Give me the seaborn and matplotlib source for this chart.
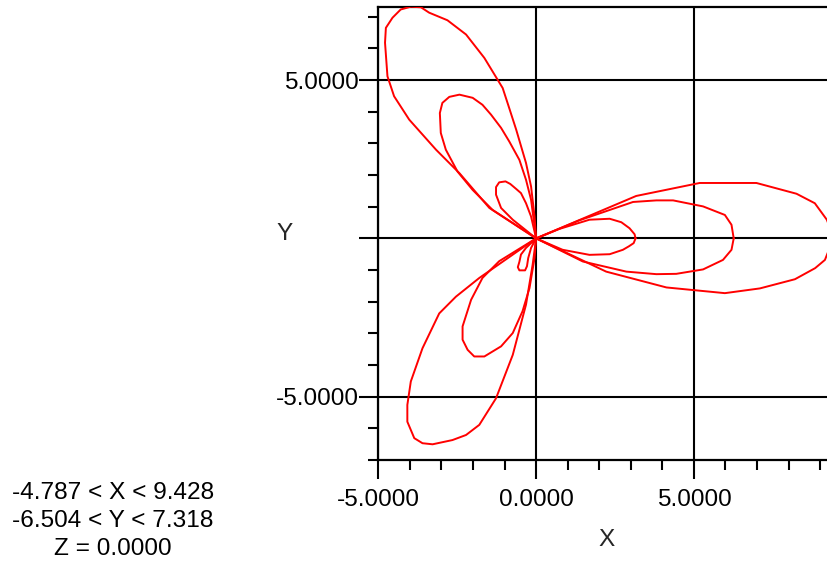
import matplotlib
matplotlib.use("Agg")
import matplotlib.pyplot as plt
import seaborn as sns
import pandas as pd
from matplotlib.ticker import MultipleLocator, FixedLocator, FormatStrFormatter, FuncFormatter

# ---- data (data units) ----
outer_x = [9.428, 9.21, 8.83, 8.25, 6.98, 5.18, 3.17, 0.0,
           -1.80, -2.54, -3.07, -3.60, -3.97, -4.08, -4.08, -3.86, -3.60, -3.28, -2.65, -2.22, -1.80, -1.27, -0.74, -0.32, -0.11, 0.0,
           -0.05, -0.16, -0.32, -0.63, -0.87, -1.06, -1.64, -2.22, -2.81, -3.39, -3.65, -3.97, -4.29, -4.55, -4.76, -4.787, -4.71, -4.50, -4.02, -3.17, -2.43, -1.48, 0.0,
           2.22, 4.13, 5.98, 7.09, 8.20, 8.84, 9.15, 9.428]
outer_y = [0.02, 0.59, 1.11, 1.41, 1.75, 1.75, 1.34, 0.0,
           -1.25, -1.84, -2.37, -3.47, -4.52, -5.26, -5.79, -6.31, -6.47, -6.504, -6.37, -6.21, -5.89, -5.05, -3.68, -2.09, -0.83, 0.0,
           0.69, 1.64, 2.38, 3.43, 4.17, 4.75, 5.70, 6.44, 6.89, 7.13, 7.30, 7.318, 7.23, 6.97, 6.65, 6.18, 5.12, 4.49, 3.75, 2.80, 2.06, 0.96, 0.0,
           -1.05, -1.55, -1.73, -1.58, -1.29, -0.94, -0.68, 0.02]

middle_x = [6.26, 6.19, 5.98, 5.29, 4.34, 3.81, 3.07, 1.37, 0.0,
            -1.17, -1.70, -2.06, -2.33, -2.33, -2.17, -1.96, -1.64, -1.11, -0.74, -0.43, -0.21, -0.05, 0.0,
            -0.16, -0.32, -0.53, -0.85, -1.11, -1.43, -1.70, -2.01, -2.43, -2.75, -2.97, -3.05, -3.02, -2.86, -2.49, -2.01, -1.38, 0.0,
            1.48, 2.86, 3.81, 4.44, 5.29, 5.92, 6.19, 6.26]
middle_y = [0.0, 0.43, 0.74, 1.01, 1.20, 1.20, 1.15, 0.57, 0.0,
            -0.72, -1.25, -1.94, -2.78, -3.20, -3.52, -3.73, -3.73, -3.41, -2.99, -2.30, -1.57, -0.62, 0.0,
            1.22, 1.85, 2.48, 3.06, 3.49, 3.91, 4.22, 4.44, 4.54, 4.47, 4.28, 3.96, 3.33, 2.80, 2.11, 1.53, 0.90, 0.0,
            -0.73, -1.05, -1.13, -1.12, -0.98, -0.68, -0.36, 0.0]

inner_x = [3.15, 3.12, 2.96, 2.70, 2.33, 1.69, 0.74, 0.0,
           -0.32, -0.48, -0.53, -0.58, -0.53, -0.35, -0.29, -0.25, -0.16, 0.0,
           -0.16, -0.32, -0.48, -0.63, -0.82, -0.97, -1.17, -1.27, -1.27, -1.11, -0.74, 0.0,
           0.84, 1.69, 2.33, 2.75, 2.94, 3.09, 3.15]
inner_y = [0.0, 0.13, 0.32, 0.51, 0.62, 0.59, 0.30, 0.0,
           -0.30, -0.51, -0.74, -0.91, -1.01, -1.01, -0.88, -0.62, -0.30, 0.0,
           0.69, 1.11, 1.43, 1.56, 1.72, 1.80, 1.77, 1.62, 1.38, 0.96, 0.59, 0.0,
           -0.36, -0.52, -0.50, -0.36, -0.25, -0.15, 0.0]

major_ticks = [-5.0, 0.0, 5.0]
x_range = (-4.787, 9.428)
y_range = (-6.504, 7.318)
z_value = 0.0
info_lines = [f"{x_range[0]:.3f} < X < {x_range[1]:.3f}",
              f"{y_range[0]:.3f} < Y < {y_range[1]:.3f}",
              f"Z = {z_value:.4f}"]

# ---- figure ----
sns.set_style("white")
plt.rcParams["font.family"] = ["Liberation Sans", "DejaVu Sans"]
plt.rcParams["axes.unicode_minus"] = False
FS = 17.6

fig = plt.figure(figsize=(8.27, 5.62), dpi=100)
ax_left, ax_right = 378.3 / 827, 833.7 / 827
ax_bottom, ax_top = 1 - 460 / 562, 1 - 6.7 / 562
ax = fig.add_axes([ax_left, ax_bottom, ax_right - ax_left, ax_top - ax_bottom])

frames = []
for name, xs, ys in [("outer", outer_x, outer_y), ("middle", middle_x, middle_y), ("inner", inner_x, inner_y)]:
    frames.append(pd.DataFrame({"x": xs, "y": ys, "curve": name}))
df = pd.concat(frames, ignore_index=True)

sns.lineplot(data=df, x="x", y="y", units="curve", estimator=None, sort=False,
             color="red", linewidth=1.4, ax=ax, zorder=3)

ax.set_xlim(-5.0, x_range[1])
ax.set_ylim(-7.0, y_range[1])

ax.xaxis.set_major_locator(FixedLocator(major_ticks))
ax.yaxis.set_major_locator(FixedLocator(major_ticks))
ax.xaxis.set_minor_locator(MultipleLocator(1))
ax.yaxis.set_minor_locator(MultipleLocator(1))
ax.xaxis.set_major_formatter(FormatStrFormatter("%.4f"))
ax.yaxis.set_major_formatter(FuncFormatter(lambda v, p: "" if abs(v) < 1e-9 else f"{v:.4f}"))

ax.grid(which="major", color="black", linewidth=1.5)
ax.set_axisbelow(True)
for s in ["left", "bottom", "top"]:
    ax.spines[s].set_visible(True)
    ax.spines[s].set_color("black")
    ax.spines[s].set_linewidth(1.6)
ax.spines["right"].set_visible(False)

ax.tick_params(which="major", direction="out", length=14, width=1.5, color="black",
               labelsize=FS, labelcolor="black")
ax.tick_params(axis="y", which="major", pad=0)
ax.tick_params(axis="x", which="major", pad=7)
ax.tick_params(which="minor", direction="out", length=7.5, width=1.5, color="black")
ax.tick_params(bottom=True, left=True, top=False, right=False, which="both")

ax.set_xlabel("X", fontsize=FS)
ax.set_ylabel("Y", fontsize=FS, rotation=0)
ax.xaxis.label.set_va("center")
ax.yaxis.label.set_va("center")
ax.yaxis.label.set_ha("center")
ax.xaxis.set_label_coords((607 - 378.3) / 455.4, (460 - 540) / 453.3)
ax.yaxis.set_label_coords((285 - 378.3) / 455.4, (460 - 234) / 453.3)

for i, line in enumerate(info_lines):
    fig.text(113 / 827, 1 - (493 + 28 * i) / 562, line, ha="center", va="center",
             fontsize=FS, color="black")

fig.savefig("out.png", dpi=100)
